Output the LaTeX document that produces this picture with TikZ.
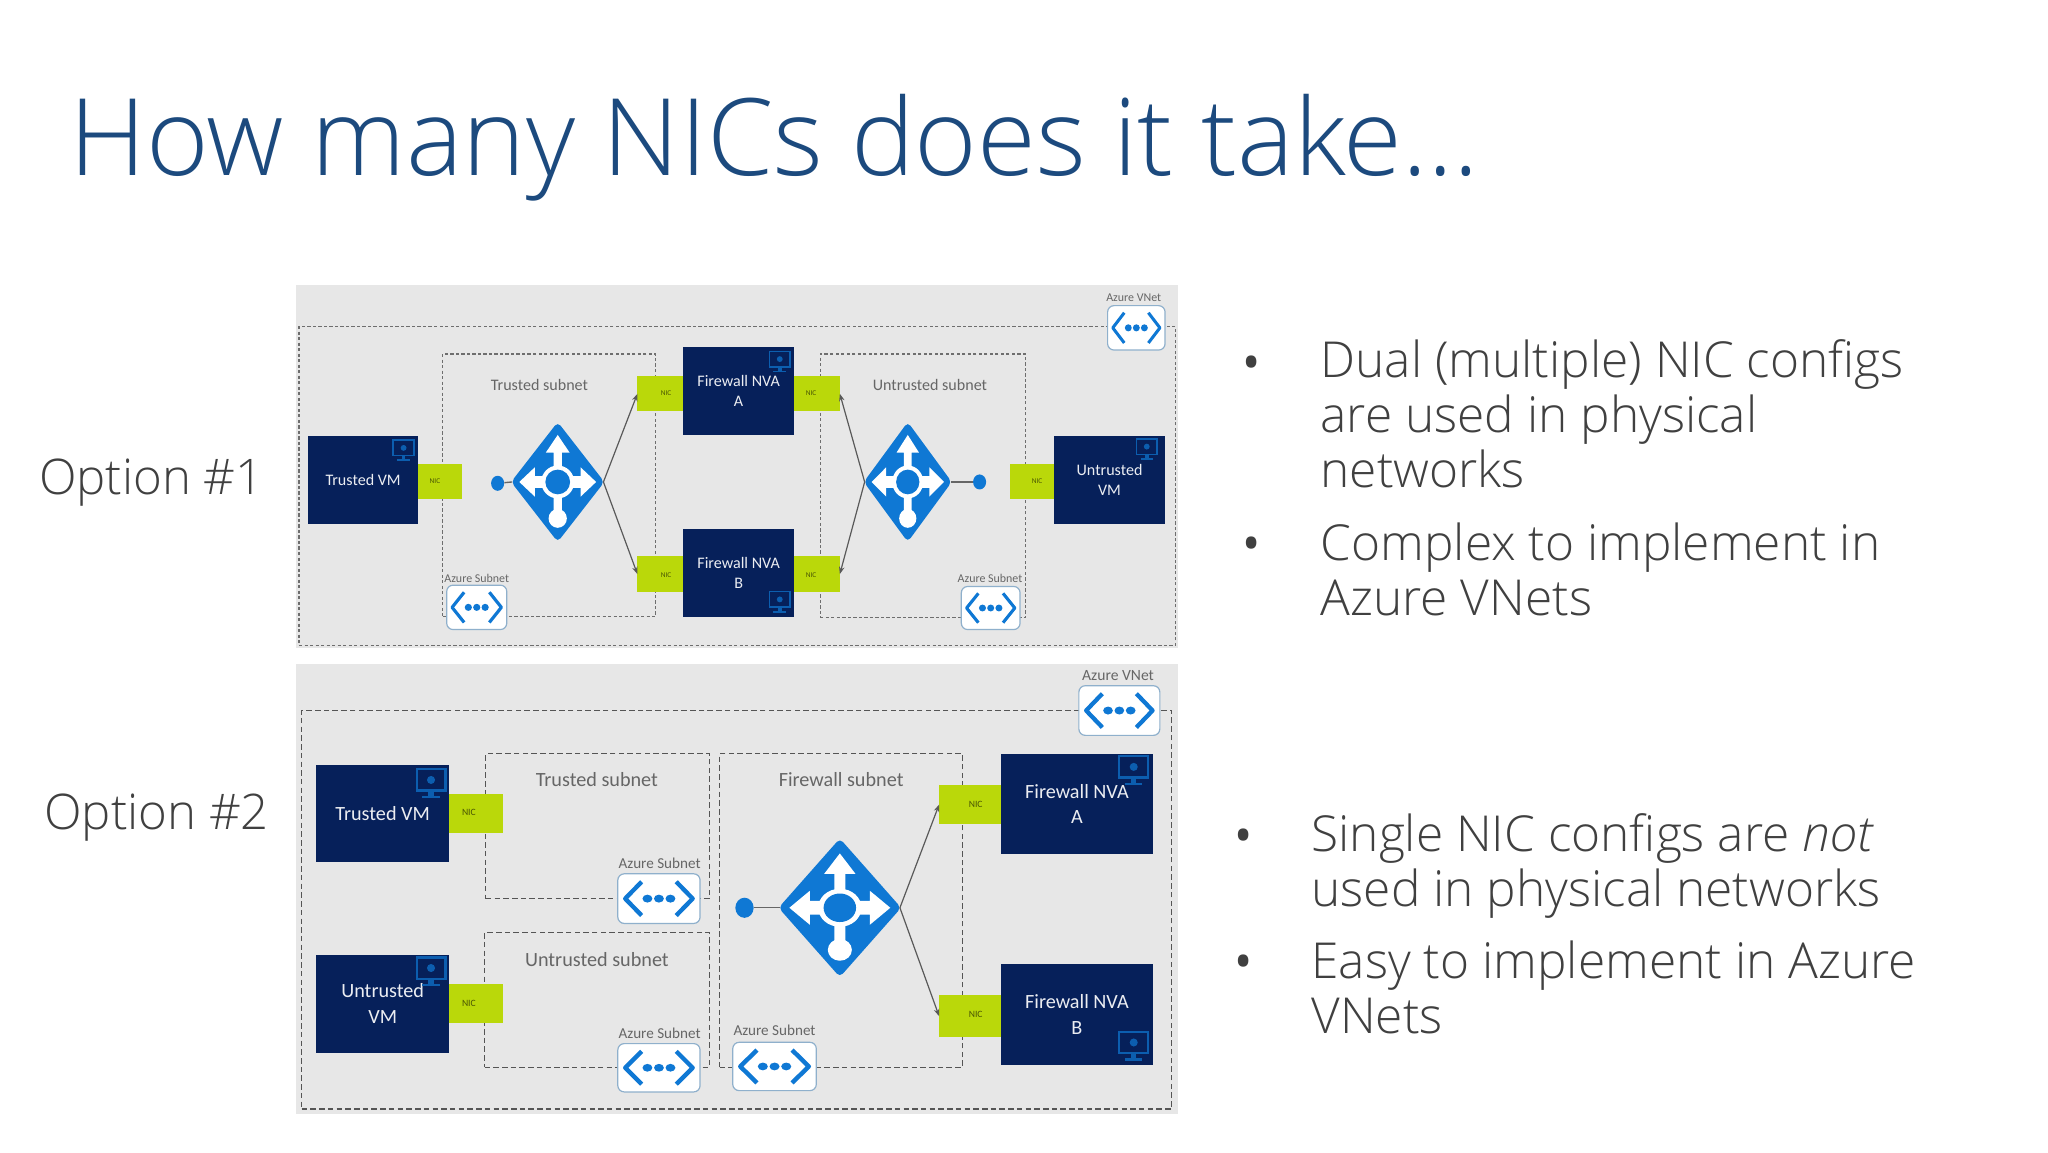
\documentclass[tikz,border=0pt]{standalone}
\usepackage{fontspec}
\setmainfont{Open Sans Light}
\newfontfamily\lab{Carlito}
\usetikzlibrary{arrows.meta}
\definecolor{panel}{HTML}{E7E7E7}
\definecolor{navy}{HTML}{06205A}
\definecolor{nicg}{HTML}{BAD80A}
\definecolor{azblue}{HTML}{0F78D4}
\definecolor{titleblue}{HTML}{1C4A7E}
\definecolor{bodyc}{HTML}{404040}
\definecolor{labc}{HTML}{666666}
\definecolor{dash}{HTML}{555555}
\definecolor{edgeb}{HTML}{8FB0CC}
\tikzset{
 sized/.style={inner sep=0,outer sep=0},
 panelbox/.style={sized,fill=panel},
 zone/.style={sized,draw=dash,line width=1.3pt,dash pattern=on 6pt off 3.5pt},
 zonefine/.style={sized,draw=dash!85,line width=1.5pt,dash pattern=on 3.5pt off 2.5pt},
 nicbox/.style={sized,fill=nicg},
 vmbox/.style={sized,fill=navy,text=white!92!navy,align=center},
 vnetbox/.style={sized,fill=white,draw=edgeb,line width=1.3pt,rounded corners=7pt},
 lbl/.style={font=\lab\fontsize{#1}{#1}\selectfont,text=labc,inner sep=0,align=center},
 nictext/.style={font=\lab\fontsize{#1}{#1}\selectfont,text=black!60!nicg,inner sep=0},
 wire/.style={draw=black!65,line width=1.3pt,-{Stealth[length=8pt,width=6pt]}},
 stub/.style={draw=black!60,line width=1.5pt},
 bodytext/.style={font=\fontsize{54}{59.75}\selectfont,text=bodyc,align=left,inner sep=0},
 bul/.style={font=\fontsize{76}{76}\selectfont,text=bodyc,inner sep=0},
 opt/.style={inner sep=0,text=bodyc,font=\fontsize{53.5}{53.5}\selectfont},
}
% name, x0,y0,x1,y1, style, text
\newcommand{\rbox}[7]{\node[#6,minimum width={((#4)-(#2))*0.05cm},minimum height={((#5)-(#3))*0.05cm}] (#1) at ({((#2)+(#4))/2},{((#3)+(#5))/2}) {#7};}
% vnet icon: name,x0,y0,x1,y1
\newcommand{\vnet}[5]{%
 \rbox{#1}{#2}{#3}{#4}{#5}{vnetbox}{}
 \begin{scope}[shift={(#1.center)},xscale={((#4)-(#2))/2},yscale={((#5)-(#3))/2}]
  \draw[azblue,line width={((#4)-(#2))*0.075pt},line join=round] (-0.42,-0.68)--(-0.82,0)--(-0.42,0.68);
  \draw[azblue,line width={((#4)-(#2))*0.075pt},line join=round] (0.42,-0.68)--(0.82,0)--(0.42,0.68);
  \foreach \q in {-0.28,0,0.28}{\fill[azblue] (\q,0) ellipse (0.12 and 0.16);}
 \end{scope}}
% load balancer: name,cx,cy,hw,hh
\newcommand{\lb}[5]{%
 \coordinate (#1) at (#2,#3);
 \coordinate (#1e) at ({(#2)+(#4)},#3);
 \coordinate (#1w) at ({(#2)-(#4)},#3);
 \begin{scope}[shift={(#1)},xscale=#4,yscale=#5]
  \fill[azblue,rounded corners=5pt] (-1.02,0)--(0,-1.02)--(1.02,0)--(0,1.02)--cycle;
  \fill[white] (-.09,-.5)--(-.26,-.5)--(0,-.8)--(.26,-.5)--(.09,-.5)--(.09,-.1)--(.5,-.1)--(.5,-.25)--(.84,0)--(.5,.25)--(.5,.1)--(.09,.1)--(.09,.55)--(-.09,.55)--(-.09,.1)--(-.5,.1)--(-.5,.25)--(-.84,0)--(-.5,-.25)--(-.5,-.1)--(-.09,-.1)--cycle;
  \fill[white] (0,.62) ellipse (.2 and .16);
  \fill[white] (0,0) ellipse (.36 and .28);
  \fill[azblue] (0,0) ellipse (.27 and .21);
 \end{scope}}
% monitor: cx,cy,size
\newcommand{\monitor}[3]{%
 \begin{scope}[shift={(#1,#2)},scale=#3]
  \draw[azblue!70!navy,line width={(#3)*0.11pt}] (-.5,-.5) rectangle (.5,.24);
  \fill[azblue!70!navy] (0,-.13) circle (.14);
  \fill[azblue!70!navy] (-.09,.24) rectangle (.09,.42);
  \fill[azblue!70!navy] (-.3,.42) rectangle (.3,.5);
 \end{scope}}
\begin{document}
\begin{tikzpicture}[x=0.05cm,y=-0.05cm]
\useasboundingbox (0,0) rectangle (1568,882);
\fill[white] (0,0) rectangle (1568,882);
\node[anchor=base west,inner sep=0,text=titleblue,font=\fontsize{116.5}{116.5}\selectfont] (title) at (53,134) {How many NICs does it take…};
\node[opt] (opt1) at (116,369.5) {Option \#1};
\node[opt] (opt2) at (120,626) {Option \#2};
% ---- panel 1
\rbox{p1}{227}{218}{902}{496}{panelbox}{}
\rbox{z1}{229}{250}{900}{494}{zonefine}{}
\rbox{z1t}{339}{271}{502}{472}{zonefine}{}
\rbox{z1u}{628}{271}{785}{473}{zonefine}{}
\node[lbl=17.5] (t1t) at (413,295) {Trusted subnet};
\node[lbl=17.5] (t1u) at (712,295) {Untrusted subnet};
\rbox{n1a}{320}{355}{354}{382}{nicbox}{}
\rbox{n1b}{488}{288}{524}{315}{nicbox}{}
\rbox{n1c}{488}{426}{524}{453}{nicbox}{}
\rbox{n1d}{608}{288}{643}{315}{nicbox}{}
\rbox{n1e}{608}{426}{643}{453}{nicbox}{}
\rbox{n1f}{773}{355}{808}{382}{nicbox}{}
\foreach \nn/\px/\py in {a/333/368,b/510/301,c/510/440,d/621/301,e/621/440,f/794/368}{\node[nictext=8] (nt\nn) at (\px,\py) {NIC};}
\rbox{v1a}{236}{334}{320}{401}{vmbox,font=\lab\fontsize{17.5}{17.5}\selectfont}{Trusted VM}
\rbox{v1b}{523}{266}{608}{333}{vmbox,font=\lab\fontsize{17.5}{22}\selectfont}{Firewall NVA\\A}
\rbox{v1c}{523}{405}{608}{472}{vmbox,font=\lab\fontsize{17.5}{22}\selectfont}{Firewall NVA\\B}
\rbox{v1d}{807}{334}{892}{401}{vmbox,font=\lab\fontsize{17.5}{22}\selectfont}{Untrusted\\VM}
\monitor{309}{345}{16}
\monitor{597}{277}{16}
\monitor{597}{461}{16}
\monitor{878}{344}{16}
\lb{lb1}{427}{369}{35}{45}
\lb{lb2}{695}{369}{33}{45}
\node[circle,fill=azblue,minimum width=0.5cm,inner sep=0,yscale=1.15] (d1) at (381,370) {};
\node[circle,fill=azblue,minimum width=0.5cm,inner sep=0,yscale=1.15] (d2) at (750,369) {};
\draw[stub] (d1)--(lb1w);
\draw[stub] (d2)--(lb2e);
\draw[wire] (lb1e)--(n1b.west);
\draw[wire] (lb1e)--(n1c.west);
\draw[wire] (lb2w)--(n1d.east);
\draw[wire] (lb2w)--(n1e.east);
\node[lbl=13] (a1a) at (365,443) {Azure Subnet};
\node[lbl=13] (a1b) at (758,443) {Azure Subnet};
\node[lbl=13] (a1c) at (868,228) {Azure VNet};
\vnet{i1a}{342}{448}{388}{482}
\vnet{i1b}{736}{449}{781}{482}
\vnet{i1c}{848}{234}{892}{268}
% ---- panel 2
\rbox{p2}{227}{508}{902}{853}{panelbox}{}
\rbox{z2}{231}{544}{897}{849}{zone}{}
\rbox{z2t}{372}{577}{543}{688}{zone}{}
\rbox{z2u}{371}{714}{543}{817}{zone}{}
\rbox{z2f}{551}{577}{737}{817}{zone}{}
\node[lbl=22] (t2t) at (457,597) {Trusted subnet};
\node[lbl=22] (t2u) at (457,735) {Untrusted subnet};
\node[lbl=22] (t2f) at (644,597) {Firewall subnet};
\rbox{n2a}{344}{608}{385}{638}{nicbox}{}
\rbox{n2b}{344}{753}{385}{783}{nicbox}{}
\rbox{n2c}{719}{601}{766}{631}{nicbox}{}
\rbox{n2d}{719}{762}{766}{794}{nicbox}{}
\foreach \nn/\px/\py in {a/359/622,b/359/768,c/747/616,d/747/777}{\node[nictext=10.5] (mt\nn) at (\px,\py) {NIC};}
\rbox{v2a}{242}{586}{344}{660}{vmbox,font=\lab\fontsize{22}{22}\selectfont}{Trusted VM}
\rbox{v2b}{242}{731}{344}{806}{vmbox,font=\lab\fontsize{22}{28}\selectfont}{Untrusted\\VM}
\rbox{v2c}{766}{577}{883}{654}{vmbox,font=\lab\fontsize{22}{28}\selectfont}{Firewall NVA\\A}
\rbox{v2d}{766}{738}{883}{815}{vmbox,font=\lab\fontsize{22}{28}\selectfont}{Firewall NVA\\B}
\monitor{330}{600}{22}
\monitor{330}{744}{22}
\monitor{868}{590}{22}
\monitor{868}{801}{22}
\lb{lb3}{643}{695}{46}{52}
\node[circle,fill=azblue,minimum width=0.7cm,inner sep=0,yscale=1.1] (d3) at (570,695) {};
\draw[stub] (d3)--(lb3w);
\draw[wire] (lb3e)--(n2c.west);
\draw[wire] (lb3e)--(n2d.west);
\node[lbl=16.5] (a2a) at (505,661) {Azure Subnet};
\node[lbl=16.5] (a2b) at (505,791) {Azure Subnet};
\node[lbl=16.5] (a2c) at (593,789) {Azure Subnet};
\node[lbl=17] (a2d) at (856,517) {Azure VNet};
\vnet{i2a}{473}{669}{536}{707}
\vnet{i2b}{473}{799}{536}{836}
\vnet{i2c}{561}{798}{625}{835}
\vnet{i2d}{826}{525}{888}{563}
% ---- bullets
\node[bul] (b1) at (958,284.5) {•};
\node[bul] (b2) at (958,423.5) {•};
\node[bul] (b3) at (952,646.5) {•};
\node[bul] (b4) at (952,743.5) {•};
\node[bodytext,anchor=west] (tx1) at (1011,317) {Dual (multiple) NIC configs\\are used in physical\\networks};
\node[bodytext,anchor=west] (tx2) at (1011,436) {Complex to implement in\\Azure VNets};
\node[bodytext,anchor=west] (tx3) at (1004,663) {Single NIC configs are \textit{not}\\used in physical networks};
\node[bodytext,anchor=west] (tx4) at (1004,756) {Easy to implement in Azure\\VNets};
\end{tikzpicture}
\end{document}
